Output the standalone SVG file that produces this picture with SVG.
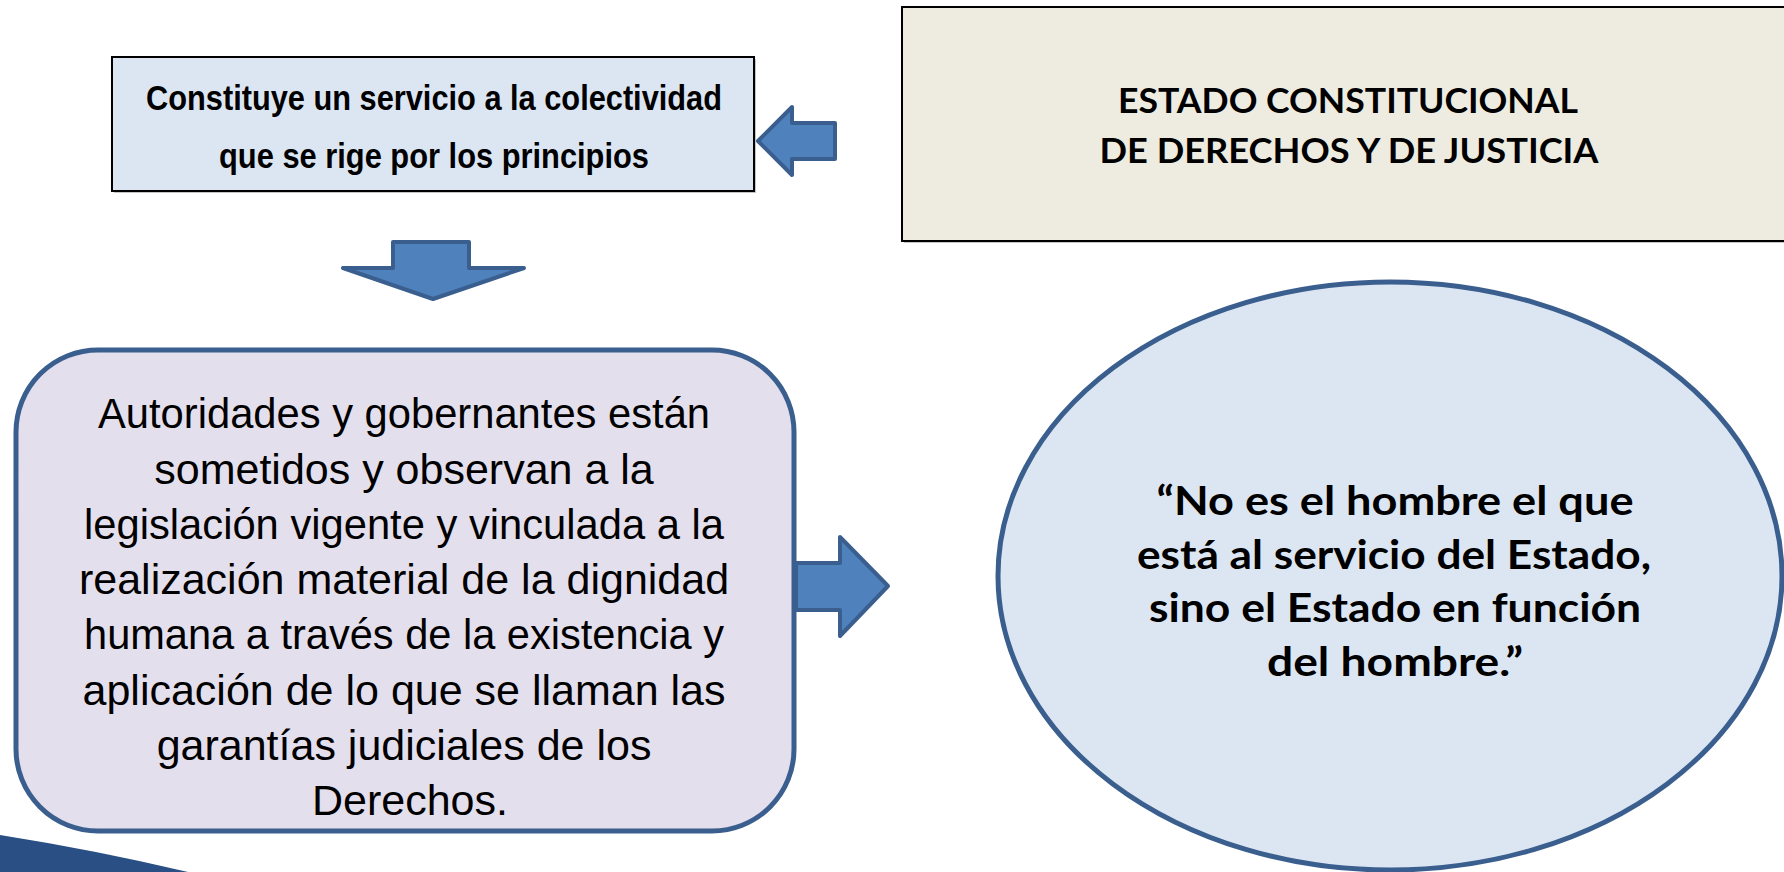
<svg xmlns="http://www.w3.org/2000/svg" width="1784" height="872" viewBox="0 0 1784 872">
<style>
.blk{fill:#4F81BD;stroke:#3A5F8F;stroke-width:4;stroke-linejoin:round}
.arial{font-family:"Liberation Sans",Arial,sans-serif;fill:#000}
.narrow{font-family:"Liberation Sans Narrow","Liberation Sans",Arial,sans-serif;font-weight:bold;fill:#000}
.cal{font-family:Lato,"Open Sans","Noto Sans",sans-serif;font-weight:bold;fill:#000}
</style>
<rect width="1784" height="872" fill="#FFFFFF"/>
<path d="M0,835 Q95,850 188,872 L0,872 Z" fill="#2A4F84"/>
<g id="node-servicio">
<rect x="114" y="59" width="642" height="134" fill="#8c8c8c" opacity="0.5"/>
<rect x="112" y="57" width="642" height="134" fill="#DCE6F2" stroke="#000" stroke-width="2"/>
<text class="narrow" font-size="35" x="434" y="110" text-anchor="middle" textLength="576" lengthAdjust="spacingAndGlyphs">Constituye un servicio a la colectividad</text>
<text class="narrow" font-size="35" x="434" y="168" text-anchor="middle" textLength="430" lengthAdjust="spacingAndGlyphs">que se rige por los principios</text>
</g>
<g id="node-estado">
<rect x="904" y="9" width="890" height="234" fill="#8c8c8c" opacity="0.5"/>
<rect x="902" y="7" width="890" height="234" fill="#EEECE1" stroke="#000" stroke-width="2"/>
<text class="cal" font-size="35" x="1348" y="113" text-anchor="middle" textLength="460" lengthAdjust="spacingAndGlyphs">ESTADO CONSTITUCIONAL</text>
<text class="cal" font-size="35" x="1349" y="163" text-anchor="middle" textLength="499" lengthAdjust="spacingAndGlyphs">DE DERECHOS Y DE JUSTICIA</text>
</g>
<g id="node-autoridades">
<rect x="16" y="350" width="778" height="481" rx="82" ry="82" fill="#E4DFEC" stroke="#3A5F8F" stroke-width="5"/>
<text class="arial" font-size="43" text-anchor="middle">
<tspan x="410" y="428" textLength="612" lengthAdjust="spacingAndGlyphs">Autoridades y gobernantes están</tspan>
<tspan x="410" y="484">sometidos y observan a la</tspan>
<tspan x="410" y="539" textLength="640" lengthAdjust="spacingAndGlyphs">legislación vigente y vinculada a la</tspan>
<tspan x="410" y="594">realización material de la dignidad</tspan>
<tspan x="410" y="649" textLength="640" lengthAdjust="spacingAndGlyphs">humana a través de la existencia y</tspan>
<tspan x="410" y="705">aplicación de lo que se llaman las</tspan>
<tspan x="410" y="760">garantías judiciales de los</tspan>
<tspan x="410" y="815">Derechos.</tspan>
</text>
</g>
<g id="node-cita">
<ellipse cx="1390" cy="576" rx="392" ry="294" fill="#DCE6F2" stroke="#3A5F8F" stroke-width="5"/>
<text class="cal" font-size="41" x="1395" y="515" text-anchor="middle" textLength="477" lengthAdjust="spacingAndGlyphs">“No es el hombre el que</text>
<text class="cal" font-size="41" x="1394" y="569" text-anchor="middle" textLength="514" lengthAdjust="spacingAndGlyphs">está al servicio del Estado,</text>
<text class="cal" font-size="41" x="1395" y="622" text-anchor="middle" textLength="492" lengthAdjust="spacingAndGlyphs">sino el Estado en función</text>
<text class="cal" font-size="41" x="1395" y="676" text-anchor="middle" textLength="256" lengthAdjust="spacingAndGlyphs">del hombre.”</text>
</g>
<g id="connectors">
<polygon class="blk" points="758,141 792,107 792,123 835,123 835,159 792,159 792,175"/>
<polygon class="blk" points="393,242 469,242 469,268 524,268 433,299 343,268 393,268"/>
<polygon class="blk" points="796,563 840,563 840,537 888,586 840,636 840,610 796,610"/>
</g>
</svg>
